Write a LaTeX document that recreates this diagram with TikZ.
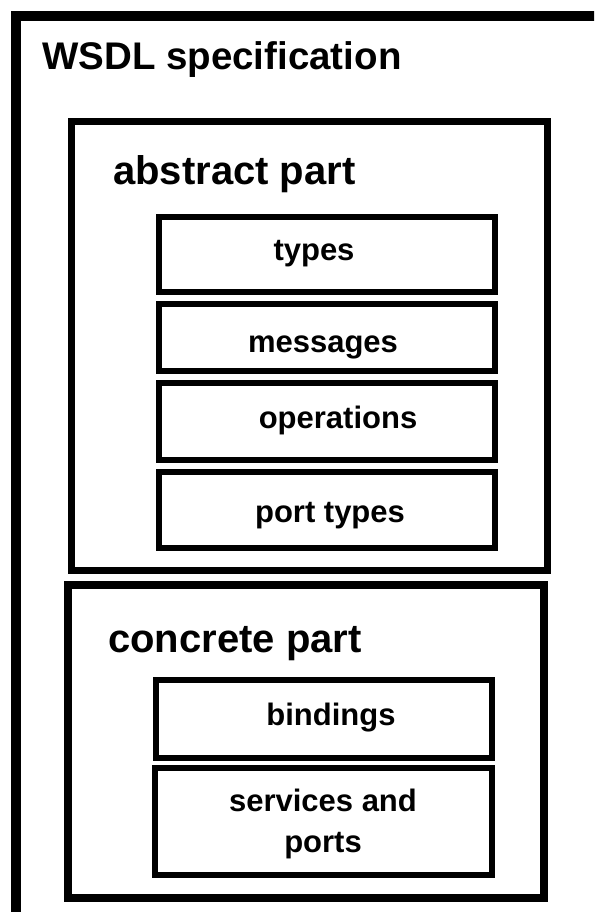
\documentclass[tikz,border=0pt]{standalone}
\usepackage{fontspec}
\setmainfont{Liberation Sans}
\begin{document}
\begin{tikzpicture}[x=1pt,y=-1pt,
  frame/.style={draw=black, rectangle, inner sep=0pt, outer sep=0pt, line join=miter},
  partbox/.style={frame, line width=7.5pt, minimum width=476pt},
  itembox/.style={frame, line width=6pt},
  heading/.style={anchor=base west, inner sep=0pt, font=\bfseries\fontsize{40}{48}\selectfont},
  itemlabel/.style={anchor=base, inner sep=0pt, font=\bfseries\fontsize{31}{41}\selectfont}]
  % page area
  \useasboundingbox (0,0) rectangle (594,912);
  \fill[white] (0,0) rectangle (594,912);
  \clip (0,0) rectangle (594,912);

  % outer specification frame, running past the right and lower edges
  \draw[line width=10pt, line join=miter] (16,940) -- (16,16) -- (620,16);
  \node[heading, font=\bfseries\fontsize{38.5}{46}\selectfont] (spec) at (42,70) {WSDL specification};

  % abstract part
  \node[partbox, minimum height=449pt] (abstract) at (309.5,346) {};
  \node[heading] (abstracttitle) at (113,185) {abstract part};
  \node[itembox, minimum width=336pt, minimum height=75pt] (types) at (326.5,254.5) {};
  \node[itembox, minimum width=336pt, minimum height=67pt] (messages) at (326.5,337.5) {};
  \node[itembox, minimum width=336pt, minimum height=77pt] (operations) at (326.5,421.5) {};
  \node[itembox, minimum width=336pt, minimum height=76pt] (porttypes) at (326.5,510) {};
  \node[itemlabel] (typeslabel) at (314,260) {types};
  \node[itemlabel] (messageslabel) at (323,352) {messages};
  \node[itemlabel] (operationslabel) at (338,428) {operations};
  \node[itemlabel] (porttypeslabel) at (330,522) {port types};

  % concrete part
  \node[partbox, line width=8.5pt, minimum height=313pt] (concrete) at (305.75,741.5) {};
  \node[heading] (concretetitle) at (108,652) {concrete part};
  \node[itembox, minimum width=335.5pt, minimum height=77.5pt] (bindings) at (323.75,718.75) {};
  \node[itembox, minimum width=337pt, minimum height=106.5pt] (services) at (323,821.25) {};
  \node[itemlabel] (bindingslabel) at (331,725) {bindings};
  \node[itemlabel, align=center] (serviceslabel) at (323,852) {services and\\ports};
\end{tikzpicture}
\end{document}
